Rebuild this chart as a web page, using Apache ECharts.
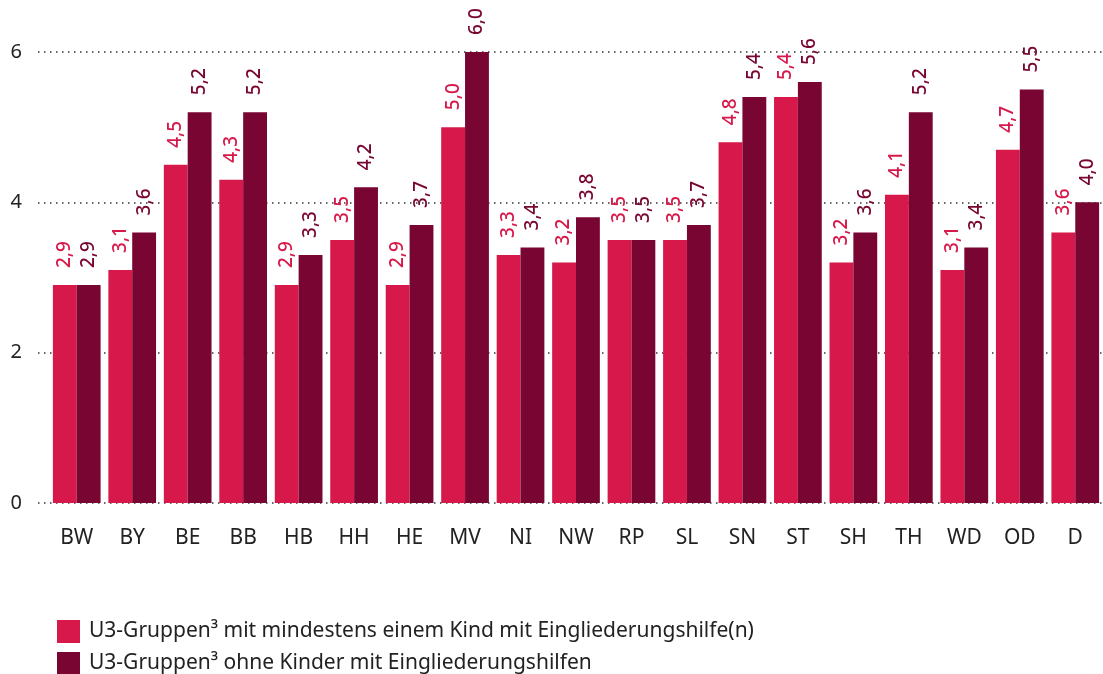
<!DOCTYPE html>
<html style="height: 100%">
<head>
    <meta charset="utf-8" />
    <title>U3-Gruppen</title>
    <script src="https://cdn.jsdelivr.net/npm/echarts@6/dist/echarts.min.js"></script>
</head>
<body style="height: 100%; margin: 0; overflow: hidden; background: #fff">
    <div id="container" style="width: 1103px; height: 674px"></div>
    <script>
        // Länder
        var categories = ["BW", "BY", "BE", "BB", "HB", "HH", "HE", "MV", "NI", "NW", "RP", "SL", "SN", "ST", "SH", "TH", "WD", "OD", "D"];
        var mitKind = [2.9, 3.1, 4.5, 4.3, 2.9, 3.5, 2.9, 5.0, 3.3, 3.2, 3.5, 3.5, 4.8, 5.4, 3.2, 4.1, 3.1, 4.7, 3.6];
        var ohneKinder = [2.9, 3.6, 5.2, 5.2, 3.3, 4.2, 3.7, 6.0, 3.4, 3.8, 3.5, 3.7, 5.4, 5.6, 3.6, 5.2, 3.4, 5.5, 4.0];
        var seriesNames = [
            "U3-Gruppen³ mit mindestens einem Kind mit Eingliederungshilfe(n)",
            "U3-Gruppen³ ohne Kinder mit Eingliederungshilfen"
        ];
        var yTicks = [0, 2, 4, 6];

        var pink = "#d6194a";
        var dark = "#780532";
        var font = "Noto Sans";

        var myChart = echarts.init(document.getElementById("container"), null, { renderer: "canvas" });

        var fmt = function (p) { return p.value.toFixed(1).replace(".", ","); };
        var barLabel = function (color) {
            return {
                show: true, position: "top", rotate: 90, align: "left", verticalAlign: "middle",
                distance: 17, color: color, fontSize: 19, fontWeight: 500, fontFamily: font, formatter: fmt
            };
        };
        var legendBox = function (name, top) {
            return {
                orient: "horizontal", left: 52, top: top, itemWidth: 23, itemHeight: 23, itemGap: 0,
                icon: "rect",
                textStyle: { fontSize: 21, color: "#222", fontFamily: font, padding: [0, 0, 0, 4] },
                data: [name]
            };
        };

        var option = {
            animation: false,
            textStyle: { fontFamily: font },
            legend: [legendBox(seriesNames[0], 615), legendBox(seriesNames[1], 647)],
            grid: [
                // dotted lines and y labels
                { left: 38, right: 0, top: 52, bottom: 171 },
                // bars
                { left: 49, right: -1, top: 52, bottom: 171 }
            ],
            xAxis: [
                { gridIndex: 0, type: "category", data: categories, show: false },
                {
                    gridIndex: 1, type: "category", data: categories,
                    axisLine: { show: false }, axisTick: { show: false },
                    axisLabel: { margin: 25, fontSize: 21, color: "#222", fontFamily: font }
                }
            ],
            yAxis: [
                {
                    gridIndex: 0, type: "value", min: yTicks[0], max: yTicks[yTicks.length - 1], interval: 2,
                    axisLine: { show: false }, axisTick: { show: false },
                    axisLabel: { margin: 16, fontSize: 20, color: "#222", fontFamily: font },
                    splitLine: { show: true, lineStyle: { type: [1.5, 4.5], color: "#333", width: 1.5 } }
                },
                {
                    gridIndex: 1, type: "value", min: yTicks[0], max: yTicks[yTicks.length - 1], interval: 2,
                    show: false, splitLine: { show: false }
                }
            ],
            series: [
                {
                    name: seriesNames[0], type: "bar", xAxisIndex: 1, yAxisIndex: 1, data: mitKind,
                    itemStyle: { color: pink }, barGap: "0%", barCategoryGap: "14%",
                    label: barLabel(pink)
                },
                {
                    name: seriesNames[1], type: "bar", xAxisIndex: 1, yAxisIndex: 1, data: ohneKinder,
                    itemStyle: { color: dark }, barGap: "0%", barCategoryGap: "14%",
                    label: barLabel(dark)
                }
            ]
        };
        myChart.setOption(option);
    </script>
</body>
</html>
